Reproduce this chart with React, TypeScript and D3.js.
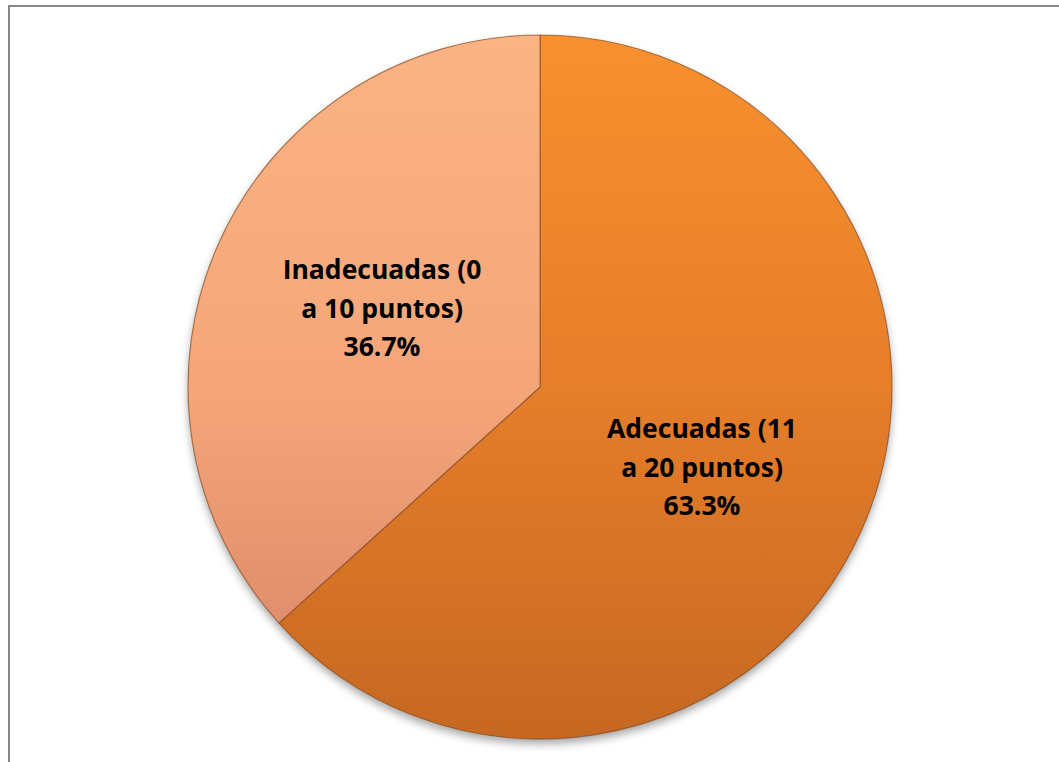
import React from "react";
import * as d3 from "d3";

const categories = ["Adecuadas (11 a 20 puntos)", "Inadecuadas (0 a 10 puntos)"];
const values = [63.3, 36.7];
const labelLines = [
  ["Adecuadas (11", "a 20 puntos)", "63.3%"],
  ["Inadecuadas (0", "a 10 puntos)", "36.7%"],
];

const W = 1059;
const H = 762;
const cx = 540;
const cy = 387;
const R = 352;

export default function App() {
  const pie = d3.pie<number>().sort(null).value((d) => d);
  const arcs = pie(values);
  const arc = d3.arc<d3.PieArcDatum<number>>().innerRadius(0).outerRadius(R);
  const gradIds = ["gA", "gI"];
  const labelPos = [
    [702, 438],
    [382, 279],
  ];
  return (
    <svg
      width={W}
      height={H}
      style={{ position: "absolute", left: 0, top: 0, display: "block", background: "#fff" }}
    >
      <defs>
        <linearGradient id="gA" x1="0" y1="0" x2="0" y2="1">
          <stop offset="0" stopColor="#F8902E" />
          <stop offset="0.5" stopColor="#E67E2A" />
          <stop offset="1" stopColor="#C66822" />
        </linearGradient>
        <linearGradient id="gI" x1="0" y1="0" x2="0" y2="1">
          <stop offset="0" stopColor="#FBB384" />
          <stop offset="0.6" stopColor="#F5A679" />
          <stop offset="1" stopColor="#E08E6C" />
        </linearGradient>
        <filter id="sh" x="-10%" y="-10%" width="120%" height="125%">
          <feDropShadow dx="0" dy="5" stdDeviation="4" floodColor="#000" floodOpacity="0.35" />
        </filter>
      </defs>
      <line x1={8} y1={6} x2={W} y2={6} stroke="#878787" strokeWidth={2} />
      <line x1={9} y1={6} x2={9} y2={H} stroke="#878787" strokeWidth={2} />
      <g transform={`translate(${cx},${cy})`}>
        <circle r={R} fill="#C66822" filter="url(#sh)" />
        {arcs.map((a, i) => (
          <path
            key={categories[i]}
            d={arc(a) || ""}
            fill={`url(#${gradIds[i]})`}
            stroke="#7a4a26"
            strokeOpacity={0.6}
            strokeWidth={1.2}
            strokeLinejoin="round"
          />
        ))}
      </g>
      {labelLines.map((lines, i) => (
        <text
          key={categories[i]}
          textAnchor="middle"
          fontFamily="'Open Sans', sans-serif"
          fontWeight="bold"
          fontSize={26.5}
          fill="#000"
        >
          {lines.map((l, j) => (
            <tspan key={j} x={labelPos[i][0]} y={labelPos[i][1] + j * 38.5}>
              {l}
            </tspan>
          ))}
        </text>
      ))}
    </svg>
  );
}
